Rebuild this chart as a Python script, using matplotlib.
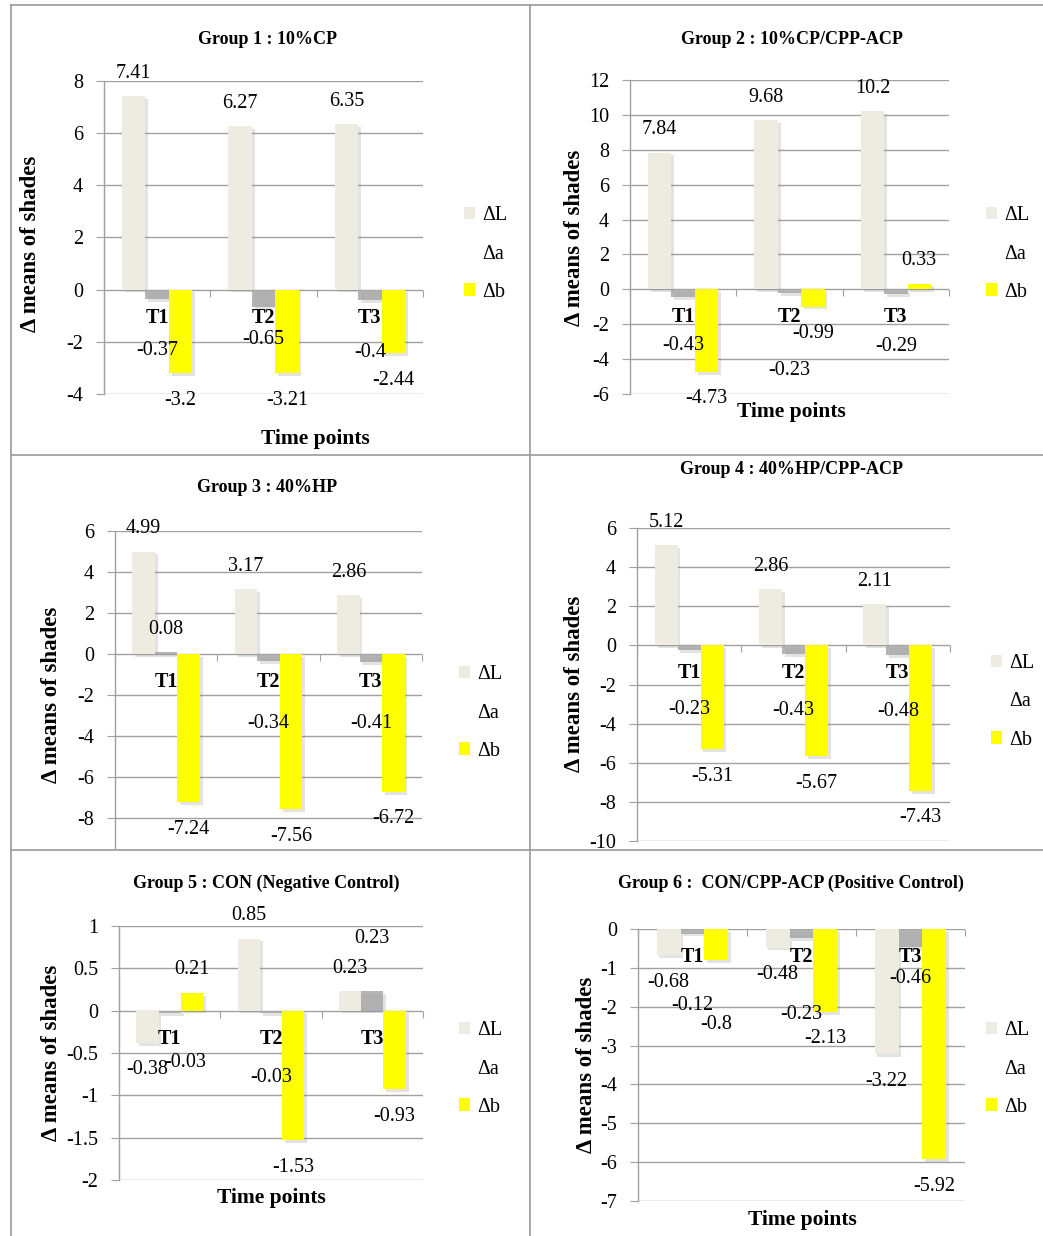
import matplotlib
matplotlib.use("Agg")
import matplotlib.pyplot as plt
import matplotlib.patheffects as pe
from matplotlib.patches import Patch
from matplotlib.lines import Line2D
import numpy as np

W, H = 1043, 1236
plt.rcParams['font.family'] = ['Liberation Serif', 'DejaVu Serif']

time_points = ["T1", "T2", "T3"]
series_names = ["ΔL", "Δa", "Δb"]
series_colors = ["#EEECE1", "#A8A8A8", "#FFFF00"]

titles = [
    "Group 1 : 10%CP",
    "Group 2 : 10%CP/CPP-ACP",
    "Group 3 : 40%HP",
    "Group 4 : 40%HP/CPP-ACP",
    "Group 5 : CON (Negative Control)",
    "Group 6 :  CON/CPP-ACP (Positive Control)",
]

# mean shade changes per group, one row per group, one value per time point
delta_L = [
    [7.41, 6.27, 6.35],
    [7.84, 9.68, 10.2],
    [4.99, 3.17, 2.86],
    [5.12, 2.86, 2.11],
    [-0.38, 0.85, 0.23],
    [-0.68, -0.48, -3.22],
]
delta_a = [
    [-0.37, -0.65, -0.4],
    [-0.43, -0.23, -0.29],
    [0.08, -0.34, -0.41],
    [-0.23, -0.43, -0.48],
    [-0.03, -0.03, 0.23],
    [-0.12, -0.23, -0.46],
]
delta_b = [
    [-3.2, -3.21, -2.44],
    [-4.73, -0.99, 0.33],
    [-7.24, -7.56, -6.72],
    [-5.31, -5.67, -7.43],
    [0.21, -1.53, -0.93],
    [-0.8, -2.13, -5.92],
]
series = [delta_L, delta_a, delta_b]

y_limits = [(-4, 8), (-6, 12), (-9.46, 6), (-10, 6), (-2, 1), (-7, 0)]
y_ticks = [(-4, 8, 2), (-6, 12, 2), (-8, 6, 2), (-10, 6, 2), (-2, 1, 0.5), (-7, 0, 1)]

# layout in pixels: axes box (left, top, right, bottom)
boxes = [
    (104, 81, 423, 394),
    (630, 80, 949, 394),
    (115, 531, 422, 848),
    (637, 528, 950, 841),
    (119, 926, 423, 1180),
    (638, 929, 965, 1201),
]
title_pos = [(267, 39), (792, 39), (267, 488), (792, 469), (266, 883), (791, 883)]
ylabel_pos = [(31, 244), (574, 238), (52, 695), (574, 684), (52, 1053), (586, 1065)]
xlabel_pos = [(315, 439), (791, 412), None, None, (271, 1198), (802, 1220)]
legend_pos = [(464, 254), (986, 254), (459, 713), (991, 702), (459, 1069), (986, 1069)]

# extra distance (px) pushing some value labels away from their bars
label_push = {
    (0, 1, 0): 24, (0, 1, 1): 6, (0, 1, 2): 25,
    (1, 1, 0): 22, (1, 1, 1): 50, (1, 1, 2): 25,
    (2, 1, 1): 36, (2, 1, 2): 34,
    (3, 1, 0): 33, (3, 1, 1): 30, (3, 1, 2): 30,
    (4, 1, 0): 22, (4, 1, 1): 37, (4, 1, 2): 30,
    (5, 1, 0): 45, (5, 1, 1): 50, (5, 1, 2): 5, (5, 2, 0): 37,
}
label_dx = {(4, 1, 0): 16}

grid_col = "#A0A0A0"
bw = 0.22
fs = 14.5

fig = plt.figure(figsize=(W / 100, H / 100), dpi=100)


def fx(px):
    return px / W


def fy(py):
    return 1 - py / H


shadow = [pe.SimplePatchShadow(offset=(2, -2), shadow_rgbFace="#909090", alpha=0.25), pe.Normal()]

for g in range(6):
    l, t, r, b = boxes[g]
    ax = fig.add_axes([fx(l), fy(b), (r - l) / W, (b - t) / H])
    x = np.arange(len(time_points))
    for s in range(3):
        vals = series[s][g]
        bars = ax.bar(x + (s - 1) * bw, vals, bw, color=series_colors[s], zorder=3,
                      alpha=0.85 if s == 1 else 1.0)
        for bar in bars:
            bar.set_path_effects(shadow)
        for ti, val in enumerate(vals):
            push = label_push.get((g, s, ti), 0)
            dy = 23 + push if val >= 0 else -(27 + push)
            ax.annotate(f"{val:g}", (ti + (s - 1) * bw, val),
                        xytext=(label_dx.get((g, s, ti), 0), dy), textcoords="offset pixels",
                        ha="center", va="center", fontsize=fs, zorder=5, annotation_clip=False)
    for ti, name in enumerate(time_points):
        ax.annotate(name, (ti, 0), xytext=(0, -28), textcoords="offset pixels",
                    ha="center", va="center", fontsize=fs, fontweight="bold", zorder=6)

    lo, hi = y_limits[g]
    ax.set_ylim(lo, hi)
    ax.set_xlim(-0.5, 2.5)
    t0, t1, st = y_ticks[g]
    ax.set_yticks(np.arange(t0, t1 + st / 2, st))
    ax.yaxis.set_major_formatter(matplotlib.ticker.FuncFormatter(lambda v, p: f"{v:g}"))
    ax.yaxis.grid(True, color=grid_col, lw=1.0)
    ax.set_axisbelow(True)
    ax.tick_params(axis="y", direction="out", length=6, color=grid_col, labelsize=fs, pad=9)

    for sp in ("top", "right"):
        ax.spines[sp].set_visible(False)
    ax.spines["left"].set_color(grid_col)
    ax.spines["left"].set_linewidth(1.0)
    ax.spines["bottom"].set_position(("data", 0))
    ax.spines["bottom"].set_visible(False)
    ax.set_xticks([-0.5, 0.5, 1.5, 2.5])
    ax.tick_params(axis="x", direction="out", length=5, color=grid_col, labelbottom=False)

    handles = [Patch(facecolor=series_colors[0]), Patch(facecolor="none", edgecolor="none"),
               Patch(facecolor=series_colors[2])]
    lx, ly = legend_pos[g]
    ax.legend(handles, series_names, loc="center left", bbox_to_anchor=(fx(lx), fy(ly)),
              bbox_transform=fig.transFigure, frameon=False, fontsize=fs,
              handlelength=0.55, handleheight=0.55, handletextpad=0.35,
              labelspacing=0.95, borderpad=0, borderaxespad=0)

    tx, ty = title_pos[g]
    fig.text(fx(tx), fy(ty), titles[g], ha="center", va="center", fontsize=13, fontweight="bold")
    yx, yy = ylabel_pos[g]
    fig.text(fx(yx), fy(yy), "Δ means of shades", ha="center", va="center", rotation=90,
             fontsize=16.5, fontweight="bold")
    if xlabel_pos[g] is not None:
        xx, xy = xlabel_pos[g]
        fig.text(fx(xx), fy(xy), "Time points", ha="center", va="center", fontsize=15.5, fontweight="bold")

# table cell borders around the six charts
border = dict(transform=fig.transFigure, color="#9A9A9A", lw=1.2)
fig.add_artist(Line2D([fx(11), fx(11)], [fy(5), fy(H)], **border))
fig.add_artist(Line2D([fx(530), fx(530)], [fy(5), fy(H)], **border))
for yy in (5, 455, 850):
    fig.add_artist(Line2D([fx(11), fx(W)], [fy(yy), fy(yy)], **border))

fig.savefig("out.png", dpi=100)
